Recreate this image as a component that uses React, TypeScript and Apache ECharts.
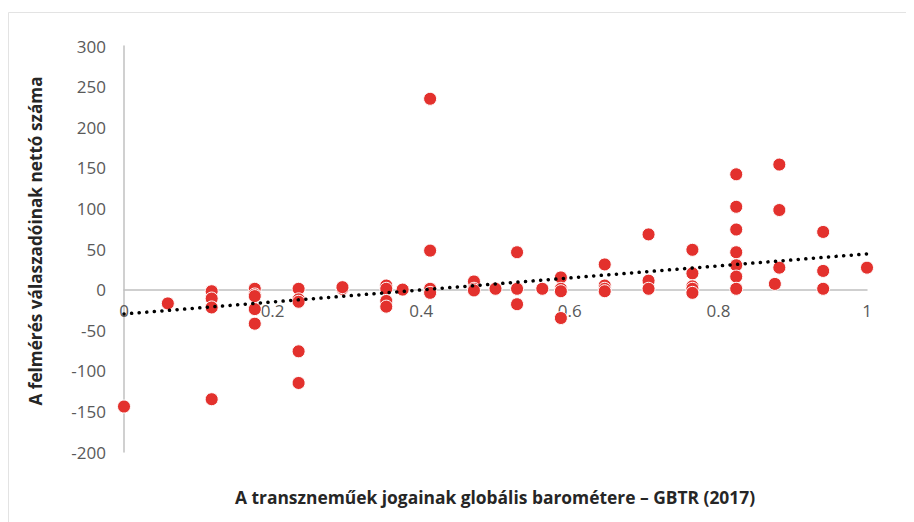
import React, { useEffect, useRef } from "react";
import * as echarts from "echarts";

const xTickLabels = ["0", "0.2", "0.4", "0.6", "0.8", "1"];
const yTickLabels = ["-200", "-150", "-100", "-50", "0", "50", "100", "150", "200", "250", "300"];

const gbtrValues = [
  0,
  0.059,
  0.118, 0.118, 0.118, 0.118,
  0.176, 0.176, 0.176, 0.176, 0.176,
  0.235, 0.235, 0.235, 0.235, 0.235,
  0.294, 0.294,
  0.353, 0.353, 0.353, 0.353,
  0.375,
  0.412, 0.412, 0.412, 0.412,
  0.471, 0.471, 0.471,
  0.5,
  0.529, 0.529, 0.529,
  0.563,
  0.588, 0.588, 0.588, 0.588,
  0.647, 0.647, 0.647, 0.647,
  0.706, 0.706, 0.706,
  0.765, 0.765, 0.765, 0.765, 0.765,
  0.824, 0.824, 0.824, 0.824, 0.824, 0.824, 0.824,
  0.876,
  0.882, 0.882, 0.882,
  0.941, 0.941, 0.941,
  1,
];

const netRespondents = [
  -144,
  -17,
  -2, -11, -22, -135,
  1, -6, -8, -24, -42,
  1, -12, -15, -76, -115,
  1, 3,
  5, 1, -14, -21,
  0,
  235, 48, 1, -4,
  10, 1, -1,
  1,
  46, 1, -18,
  1,
  15, 1, -2, -35,
  31, 5, 1, -2,
  68, 11, 1,
  49, 20, 4, 1, -4,
  142, 102, 74, 46, 30, 16, 1,
  7,
  154, 98, 27,
  71, 23, 1,
  27,
];

const trendX = [0, 1];
const trendY = [-30, 44];

const xTitle = "A transzneműek jogainak globális barométere – GBTR (2017)";
const yTitle = "A felmérés válaszadóinak nettó száma";

export default function App() {
  const ref = useRef<HTMLDivElement>(null);
  useEffect(() => {
    if (!ref.current) return;
    const chart = echarts.init(ref.current, null, { renderer: "svg" });
    const font = "'Open Sans', 'Noto Sans', sans-serif";
    const points = gbtrValues.map((x, i) => [x, netRespondents[i]]);
    const trend = trendX.map((x, i) => [x, trendY[i]]);
    const gridTop = 38;
    const gridBottom = 70;
    const gridH = 514 - gridTop - gridBottom;
    const zeroOffset = -(gridH * 200) / 500;
    chart.setOption({
      animation: false,
      backgroundColor: "#ffffff",
      textStyle: { fontFamily: font },
      grid: { left: 116, top: gridTop, right: 47, bottom: gridBottom, containLabel: false },
      xAxis: {
        type: "value",
        min: 0,
        max: 1,
        interval: 0.2,
        offset: zeroOffset,
        axisLine: { onZero: false, lineStyle: { color: "#c0c0c0", width: 1.5 } },
        axisTick: { show: false },
        splitLine: { show: false },
        axisLabel: {
          color: "#595959",
          fontSize: 17,
          fontFamily: font,
          margin: 12,
          formatter: (v: number) => {
            const idx = Math.round(v / 0.2);
            return xTickLabels[idx] ?? String(v);
          },
        },
      },
      yAxis: {
        type: "value",
        min: -200,
        max: 300,
        interval: 50,
        axisLine: { show: true, onZero: false, lineStyle: { color: "#c0c0c0", width: 1.5 } },
        axisTick: { show: false },
        splitLine: { show: false },
        axisLabel: {
          color: "#595959",
          fontSize: 17,
          fontFamily: font,
          margin: 18,
          formatter: (v: number) => {
            const idx = Math.round((v + 200) / 50);
            return yTickLabels[idx] ?? String(v);
          },
        },
      },
      graphic: [
        {
          type: "rect",
          shape: { x: 0.5, y: 4.5, width: 920, height: 530 },
          style: { fill: "none", stroke: "#e3e3e3", lineWidth: 1 },
          silent: true,
        },
        {
          type: "text",
          x: 487,
          y: 489,
          style: {
            text: xTitle,
            fontSize: 17.4,
            fontWeight: "bold",
            fontFamily: font,
            fill: "#262626",
            align: "center",
            verticalAlign: "middle",
          },
        },
        {
          type: "text",
          x: 27,
          y: 233,
          rotation: Math.PI / 2,
          style: {
            text: yTitle,
            fontSize: 17.2,
            fontWeight: "bold",
            fontFamily: font,
            fill: "#262626",
            align: "center",
            verticalAlign: "middle",
          },
        },
      ],
      series: [
        {
          type: "scatter",
          data: points,
          symbolSize: 13,
          itemStyle: { color: "#e3312d", borderColor: "#ffffff", borderWidth: 1, opacity: 1 },
          z: 2,
        },
        {
          type: "line",
          data: trend,
          symbol: "none",
          lineStyle: { color: "#000000", width: 3.5, type: [0.1, 7.5], cap: "round" },
          z: 3,
        },
      ],
    });
    return () => chart.dispose();
  }, []);
  return <div ref={ref} style={{ width: 906, height: 514 }} />;
}
